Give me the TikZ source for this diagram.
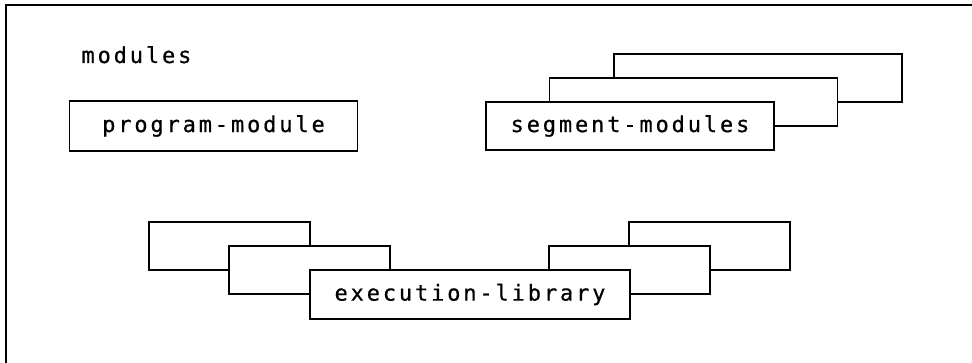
\documentclass[tikz,border=0pt]{standalone}
\usepackage{fontspec}
\newfontfamily\modfont[LetterSpace=13, FakeBold=0.6]{DejaVu Sans Mono}
\usepackage{tikz}
\tikzset{
	modbox/.style={draw, line width=1.4pt, fill=white, inner sep=0pt, minimum height=48pt, font=\modfont\fontsize{22}{24}\selectfont},
	wide/.style={modbox, minimum width=288pt},
	narrow/.style={modbox, minimum width=161pt}
}

\begin{document}
\begin{tikzpicture}[x=1pt, y=-1pt]
		\useasboundingbox (0,0) rectangle (972,363);
		\draw[line width=1.6pt](6,363)--(6,5)--(972,5);
		\node[anchor=base west, font=\modfont\fontsize{22}{24}\selectfont] (title) at (78,63) {modules};
		\node[wide, minimum height=50pt] (prog) at (213.5,126) {program-module\hspace{6pt}};
		% segment modules, back to front
		\node[wide] (seg3) at (758,78) {};
		\node[wide] (seg2) at (693.5,102) {};
		\node[wide] (seg1) at (630,126) {segment-modules};
		% execution library
		\node[narrow] (libl2) at (229.5,246) {};
		\node[narrow] (libl1) at (309.5,270) {};
		\node[narrow] (libr2) at (709.5,246) {};
		\node[narrow] (libr1) at (629.5,270) {};
		\node[modbox, minimum width=320pt, minimum height=49pt] (lib) at (470,294.5) {execution-library};
	\end{tikzpicture}
\end{document}
